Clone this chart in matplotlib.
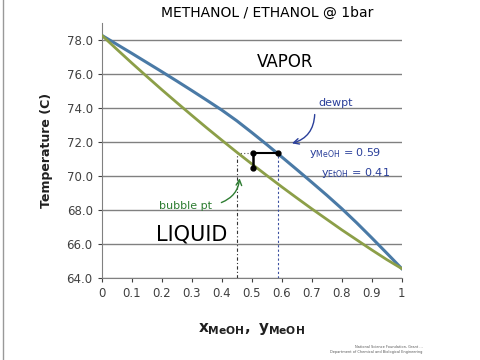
import numpy as np
import matplotlib.pyplot as plt
from matplotlib.lines import Line2D

# Txy data (methanol/ethanol at 1 bar)
x_meoh = [0.0, 0.05, 0.1, 0.15, 0.2, 0.25, 0.3, 0.35, 0.4, 0.45, 0.5,
          0.55, 0.6, 0.65, 0.7, 0.75, 0.8, 0.85, 0.9, 0.95, 1.0]
t_bubble = [78.30, 77.48, 76.67, 75.88, 75.10, 74.34, 73.59, 72.85, 72.13, 71.42, 70.73,
            70.05, 69.38, 68.73, 68.09, 67.47, 66.85, 66.26, 65.67, 65.10, 64.57]
t_dew = [78.30, 77.77, 77.24, 76.70, 76.16, 75.61, 75.05, 74.48, 73.90, 73.27, 72.58,
         71.87, 71.14, 70.40, 69.65, 68.89, 68.10, 67.26, 66.38, 65.48, 64.57]

# tie line drawn by hand
x_bub, y_dew, t_tie = 0.45, 0.587, 71.37
x_mark = 0.505
t_mark_low = 70.5

y_ticks = [64.0, 66.0, 68.0, 70.0, 72.0, 74.0, 76.0, 78.0]
x_ticks = [0, 0.1, 0.2, 0.3, 0.4, 0.5, 0.6, 0.7, 0.8, 0.9, 1]
x_labels = ["0", "0.1", "0.2", "0.3", "0.4", "0.5", "0.6", "0.7", "0.8", "0.9", "1"]

fig = plt.figure(figsize=(4.8, 3.6), dpi=100)
ax = fig.add_axes([0.212, 0.227, 0.625, 0.708])

ax.plot(x_meoh, t_dew, color="#4a7aa6", lw=2.2, zorder=3)
ax.plot(x_meoh, t_bubble, color="#8c9f48", lw=2.0, zorder=3)

ax.set_xlim(0, 1)
ax.set_ylim(64, 79.0)
ax.set_yticks(y_ticks)
ax.set_yticklabels(["%.1f" % v for v in y_ticks])
ax.set_xticks(x_ticks)
ax.set_xticklabels(x_labels)
ax.tick_params(labelsize=8.5, colors="#404040", length=3, direction="out")
ax.grid(axis="y", color="#808080", lw=1)
ax.set_axisbelow(True)
for s in ["top", "right"]:
    ax.spines[s].set_visible(False)
for s in ["left", "bottom"]:
    ax.spines[s].set_color("#808080")

ax.set_ylabel("Temperature (C)", fontsize=9, fontweight="bold", color="#202020", labelpad=10)
ax.set_xlabel(r"$\mathbf{x_{MeOH},\ y_{MeOH}}$", fontsize=11, color="#202020", labelpad=15)

# hand annotations
ax.plot([x_bub, x_bub], [64, t_tie], color="#333333", lw=0.8, ls=(0, (3, 2, 1, 2)))
ax.plot([y_dew, y_dew], [64, t_tie], color="#3a4fa0", lw=0.8, ls=(0, (2, 2)))
ax.plot([x_bub, x_mark], [t_tie, t_tie], color="#555555", lw=0.8, ls=(0, (1, 2)))
ax.plot([x_mark, y_dew], [t_tie, t_tie], color="black", lw=1.5, zorder=4)
ax.plot([x_mark, x_mark], [t_tie, t_mark_low], color="black", lw=1.8, zorder=4)
ax.plot([x_mark, x_mark, y_dew], [t_tie, t_mark_low, t_tie], "o", color="black", ms=3.5, zorder=5)

ax.text(0.61, 76.7, "VAPOR", fontsize=12, ha="center", va="center")
ax.text(0.30, 66.6, "LIQUID", fontsize=15, ha="center", va="center")
ax.text(0.78, 74.3, "dewpt", fontsize=8, color="#2a3f9a", ha="center", va="center")
ax.annotate("", xy=(0.625, 71.9), xytext=(0.71, 73.8),
            arrowprops=dict(arrowstyle="->", color="#2a3f9a", lw=1,
                            connectionstyle="arc3,rad=-0.4"))
ax.text(0.69, 71.4, "y$_{\\rm MeOH}$ = 0.59", fontsize=8, color="#2a3f9a", va="center")
ax.text(0.73, 70.2, "y$_{\\rm EtOH}$ = 0.41", fontsize=8, color="#2a3f9a", va="center")
ax.text(0.28, 68.25, "bubble pt", fontsize=8, color="#2e7d32", ha="center", va="center")
ax.annotate("", xy=(0.46, 70.05), xytext=(0.39, 68.4),
            arrowprops=dict(arrowstyle="->", color="#2e7d32", lw=1,
                            connectionstyle="arc3,rad=0.35"))

fig.text(0.557, 0.963, "METHANOL / ETHANOL @ 1bar", fontsize=10, ha="center", va="center")
fig.text(0.88, 0.03, "National Science Foundation, Grant ...\nDepartment of Chemical and Biological Engineering",
         fontsize=2.5, color="#555555", ha="right", va="center")
fig.add_artist(Line2D([0.006, 0.006], [0, 1], color="#999999", lw=1))

fig.savefig("out.png", dpi=100)
